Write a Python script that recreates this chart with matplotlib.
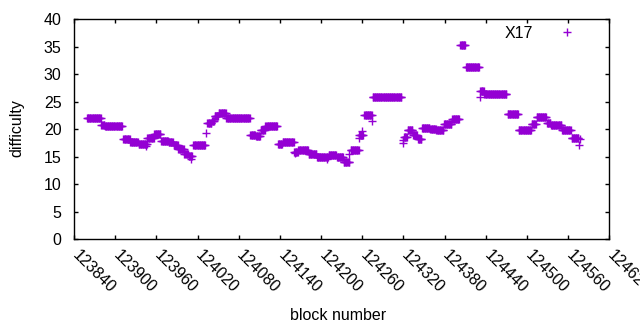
import numpy as np
import matplotlib
matplotlib.use("Agg")
import matplotlib.pyplot as plt
from matplotlib.transforms import ScaledTranslation

plt.rcParams['font.family'] = ['Liberation Sans', 'DejaVu Sans']

# Runs of constant difficulty: first block, last block, difficulty
seg_start = [123859, 123880, 123885, 123913, 123922, 123934, 123947, 123957, 123967, 123978,
             123985, 123992, 124001, 124007, 124014, 124034, 124041, 124045, 124051, 124062,
             124097, 124105, 124112, 124119, 124137, 124144, 124161, 124167, 124182, 124194,
             124211, 124223, 124233, 124243, 124256, 124263, 124275, 124321, 124326, 124334,
             124341, 124347, 124359, 124368, 124379, 124391, 124403, 124411, 124432, 124438,
             124472, 124488, 124507, 124514, 124529, 124535, 124551, 124565]
seg_end = [123879, 123884, 123910, 123921, 123933, 123946, 123956, 123966, 123977, 123984,
           123991, 124000, 124006, 124012, 124031, 124040, 124044, 124050, 124061, 124096,
           124104, 124111, 124118, 124136, 124143, 124160, 124166, 124181, 124193, 124210,
           124222, 124232, 124241, 124255, 124261, 124274, 124317, 124325, 124333, 124340,
           124346, 124358, 124367, 124378, 124390, 124401, 124410, 124430, 124437, 124470,
           124487, 124506, 124513, 124528, 124534, 124550, 124564, 124575]
seg_value = [22.0, 20.8, 20.6, 18.2, 17.7, 17.3, 18.4, 19.1, 17.9, 17.7,
             17.1, 16.4, 15.5, 15.1, 17.1, 21.1, 21.6, 22.4, 23.0, 22.0,
             19.0, 18.8, 19.9, 20.6, 17.4, 17.7, 15.8, 16.2, 15.5, 15.0,
             15.4, 14.9, 14.0, 16.2, 19.0, 22.6, 25.8, 18.6, 19.8, 18.9,
             18.3, 20.3, 20.0, 19.8, 20.9, 21.8, 35.4, 31.3, 27.0, 26.4,
             22.7, 19.8, 21.0, 22.3, 21.1, 20.75, 19.85, 18.4]

# Individual stray blocks
extra_block = [123911, 123945, 124010, 124032, 124162, 124208, 124240, 124256, 124258,
               124260, 124274, 124319, 124320, 124432, 124576, 124577]
extra_value = [18.2, 17.0, 14.6, 19.3, 15.7, 14.6, 15.5, 18.4, 18.9,
               19.7, 21.5, 17.5, 18.0, 25.9, 17.2, 18.2]

x_ticks = list(range(123840, 124621, 60))
y_ticks = list(range(0, 41, 5))

blocks = []
diffs = []
for s, e, v in zip(seg_start, seg_end, seg_value):
    for b in range(s, e + 1):
        blocks.append(b)
        diffs.append(v)
blocks += extra_block
diffs += extra_value

FS = 11.5
fig = plt.figure(figsize=(6.4, 3.3), dpi=100)
ax = fig.add_axes([74 / 640, 1 - 239.3 / 330, 535.3 / 640, 220 / 330])
color = '#9400D3'
ax.plot(blocks, diffs, linestyle='none', marker='+', markersize=5.2,
        markeredgewidth=1.0, color=color, label='X17')

ax.set_xlim(123840, 124620)
ax.set_ylim(0, 40)
ax.set_yticks(y_ticks)
ax.set_xticks(x_ticks)
ax.set_xticklabels([str(t) for t in x_ticks], rotation=-45, ha='left', va='top',
                   rotation_mode='anchor')
ax.tick_params(direction='in', top=True, right=True, length=2.6, width=1,
               labelsize=FS, colors='black')
ax.tick_params(axis='y', pad=9)
ax.tick_params(axis='x', pad=6)
offset = ScaledTranslation(6 / 100, 0 / 100, fig.dpi_scale_trans)
for lab in ax.get_xticklabels():
    lab.set_transform(lab.get_transform() + offset)
for sp in ax.spines.values():
    sp.set_linewidth(1.0)

ax.set_xlabel('block number', fontsize=FS)
ax.set_ylabel('difficulty', fontsize=FS)
ax.xaxis.set_label_coords(0.494, -0.31)
ax.yaxis.set_label_coords(-0.093, 0.504)

leg = ax.legend(loc='upper right', frameon=False, markerfirst=False, fontsize=FS,
                handlelength=2.0, handletextpad=1.125, borderaxespad=0.0,
                bbox_to_anchor=(0.962, 1.0))

fig.savefig('out.png', dpi=100)
